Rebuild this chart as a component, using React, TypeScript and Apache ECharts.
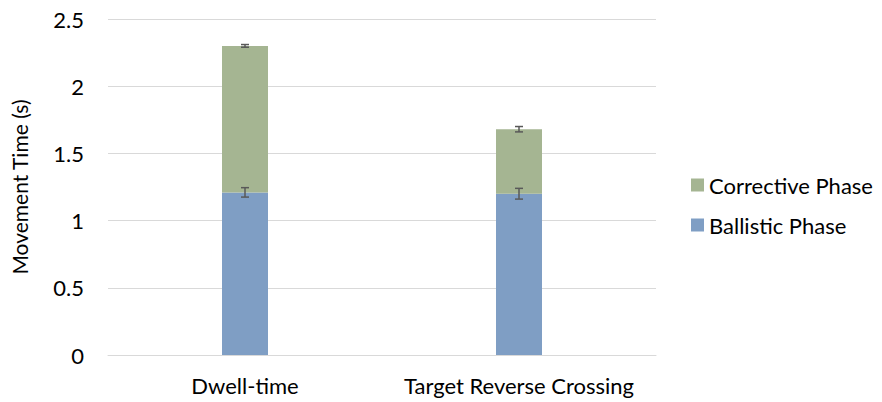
import React, { useEffect, useRef } from "react";
import * as echarts from "echarts";

// Categories and phase durations (seconds)
const categories = ["Dwell-time", "Target Reverse Crossing"];
const ballistic = [1.21, 1.2];
const corrective = [1.09, 0.48];
// Error half-widths: at the ballistic top and at the total (stack) top
const ballisticErr = [0.035, 0.04];
const totalErr = [0.01, 0.02];

const yTicks = { min: 0, max: 2.5, interval: 0.5 };

const FONT = "Lato";

export default function App() {
  const ref = useRef<HTMLDivElement>(null);

  useEffect(() => {
    if (!ref.current) return;
    const chart = echarts.init(ref.current, null, { renderer: "svg" });

    // Error bar points: [category index, centre value, half-width]
    const errData: number[][] = [];
    categories.forEach((_, i) => {
      errData.push([i, ballistic[i], ballisticErr[i]]);
      errData.push([i, ballistic[i] + corrective[i], totalErr[i]]);
    });

    const errorSeries: any = {
      type: "custom",
      name: "err",
      silent: true,
      z: 10,
      data: errData,
      encode: { x: 0, y: 1 },
      renderItem: (params: any, api: any) => {
        const xi = api.value(0);
        const c = api.value(1);
        const e = api.value(2);
        const hi = api.coord([xi, c + e]);
        const lo = api.coord([xi, c - e]);
        const half = 4;
        const style = { stroke: "#595959", lineWidth: 1.5 };
        return {
          type: "group",
          children: [
            { type: "line", shape: { x1: hi[0], y1: hi[1], x2: lo[0], y2: lo[1] }, style },
            { type: "line", shape: { x1: hi[0] - half, y1: hi[1], x2: hi[0] + half, y2: hi[1] }, style },
            { type: "line", shape: { x1: lo[0] - half, y1: lo[1], x2: lo[0] + half, y2: lo[1] }, style },
          ],
        };
      },
    };

    chart.setOption({
      animation: false,
      textStyle: { fontFamily: FONT },
      grid: { left: 108, right: 226, top: 19, bottom: 47 },
      legend: {
        orient: "vertical",
        left: 686,
        top: 169,
        itemWidth: 13,
        itemHeight: 13,
        itemGap: 18,
        icon: "rect",
        data: ["Corrective Phase", "Ballistic Phase"],
        textStyle: { fontFamily: FONT, fontSize: 22, color: "#000" },
      },
      xAxis: {
        type: "category",
        data: categories,
        axisTick: { show: false },
        axisLine: { lineStyle: { color: "#d9d9d9", width: 1 } },
        axisLabel: {
          fontFamily: FONT,
          fontSize: 22,
          color: "#000",
          margin: 19,
          interval: 0,
          hideOverlap: false,
        },
      },
      yAxis: {
        type: "value",
        min: yTicks.min,
        max: yTicks.max,
        interval: yTicks.interval,
        name: "Movement Time (s)",
        nameLocation: "middle",
        nameGap: 78,
        nameTextStyle: { fontFamily: FONT, fontSize: 21, color: "#000" },
        axisLine: { show: false },
        axisTick: { show: false },
        splitLine: { lineStyle: { color: "#d9d9d9", width: 1 } },
        axisLabel: { fontFamily: FONT, fontSize: 22, color: "#000", margin: 24 },
      },
      series: [
        {
          name: "Ballistic Phase",
          type: "bar",
          stack: "t",
          barWidth: 46,
          data: ballistic,
          itemStyle: { color: "#7f9ec4" },
        },
        {
          name: "Corrective Phase",
          type: "bar",
          stack: "t",
          barWidth: 46,
          data: corrective,
          itemStyle: { color: "#a5b592" },
        },
        errorSeries,
      ],
    });

    return () => chart.dispose();
  }, []);

  return (
    <div
      ref={ref}
      style={{ position: "fixed", left: 0, top: 0, width: 882, height: 402, background: "#fff" }}
    />
  );
}
